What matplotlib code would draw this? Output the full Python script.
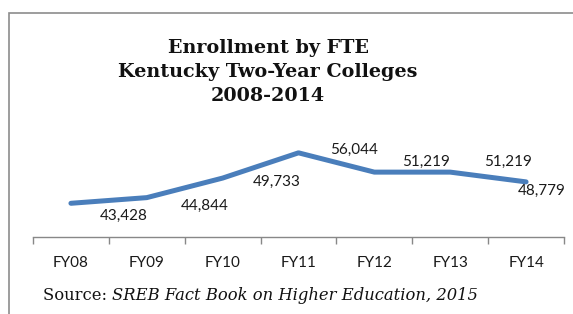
import matplotlib
matplotlib.use("Agg")
import matplotlib.pyplot as plt
from matplotlib.patches import Rectangle

years = ["FY08", "FY09", "FY10", "FY11", "FY12", "FY13", "FY14"]
fte = [43428, 44844, 49733, 56044, 51219, 51219, 48779]
point_labels = ["43,428", "44,844", "49,733", "56,044", "51,219", "51,219", "48,779"]

# label offsets in pixels (right, down) as placed in the original
label_off = [(53, -13), (58, -8), (54, -4), (56, 3), (52, 10), (58, 10), (16, -9)]

W, H = 573, 314
fig = plt.figure(figsize=(W / 100, H / 100), dpi=100)

# outer gray frame (left and top visible)
fig.patches.append(Rectangle((9 / W, -0.1), 1.2, (H - 13) / H + 0.1, transform=fig.transFigure,
                             fill=False, edgecolor="#8c8c8c", linewidth=1.2))

ax = fig.add_axes([33 / W, (H - 237) / H, (564 - 33) / W, 100 / H])
x = list(range(len(years)))
ax.plot(x, fte, color="#4a7ebb", linewidth=3.6, solid_capstyle="round", solid_joinstyle="round")

for i, (v, lab) in enumerate(zip(fte, point_labels)):
    ax.annotate(lab, (i, v), xytext=label_off[i], textcoords="offset pixels",
                ha="center", va="center", fontsize=11, family="Lato", color="#1a1a1a")

ax.set_xlim(-0.5, len(years) - 0.5)
ax.set_ylim(35000, 60000)
ax.set_xticks([i - 0.5 for i in range(len(years) + 1)])
ax.set_xticklabels([])
ax.set_xticks(x, minor=True)
ax.set_xticklabels(years, minor=True, fontsize=11, family="Lato", color="#1a1a1a")
ax.tick_params(axis="x", which="major", length=5, width=1, color="#888888", direction="out")
ax.tick_params(axis="x", which="minor", length=0, pad=14)
ax.set_yticks([])
for s in ["top", "right", "left"]:
    ax.spines[s].set_visible(False)
ax.spines["bottom"].set_color("#888888")
ax.spines["bottom"].set_linewidth(1)
ax.patch.set_alpha(0)

fig.text(268 / W, 1 - 72 / H, "Enrollment by FTE\nKentucky Two-Year Colleges\n2008-2014",
         ha="center", va="center", fontsize=13.8, fontweight="bold", family="DejaVu Serif",
         linespacing=1.45, color="#111111")

t = fig.text(43 / W, 1 - 295 / H, "Source: ", ha="left", va="center", fontsize=11.8,
             family="DejaVu Serif", color="#111111")
fig.canvas.draw()
bb = t.get_window_extent()
fig.text(bb.x1 / W, 1 - 295 / H, "SREB Fact Book on Higher Education, 2015", ha="left", va="center",
         fontsize=11.8, family="DejaVu Serif", style="italic", color="#111111")

fig.savefig("out.png", dpi=100)
